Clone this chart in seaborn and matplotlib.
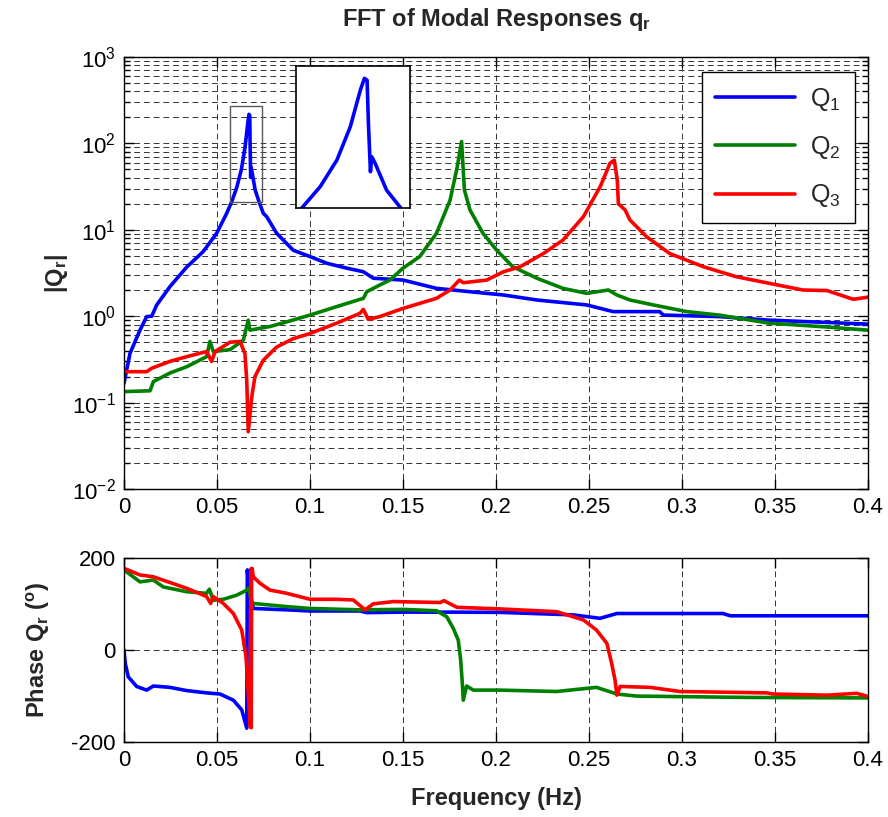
import numpy as np
import pandas as pd
import matplotlib
matplotlib.use("Agg")
import matplotlib.pyplot as plt
from matplotlib.patches import Rectangle
from matplotlib.ticker import LogLocator, NullFormatter, FixedLocator, FixedFormatter
import seaborn as sns

# |Q_r| values (frequency in Hz)
q1_freq = [0, 0.0032, 0.0086, 0.0122, 0.0149, 0.0176, 0.0247, 0.0337, 0.0426, 0.0498,
           0.0552, 0.0579, 0.0606, 0.0631, 0.0651, 0.0666, 0.0672, 0.0676, 0.0678, 0.0681,
           0.0683, 0.0688, 0.0705, 0.0726, 0.0749, 0.0767, 0.0821, 0.091, 0.1, 0.109,
           0.1197, 0.1287, 0.134, 0.150, 0.168, 0.186, 0.204, 0.222, 0.2487, 0.263,
           0.288, 0.29, 0.320, 0.347, 0.4]
q1_mag = [0.167, 0.37, 0.69, 0.99, 1.0, 1.35, 2.2, 3.7, 5.6, 9.1,
          15.5, 21.1, 30.8, 49.8, 90.8, 176, 217, 210, 96.6, 40.4,
          52.8, 47, 29, 21.1, 15.5, 14.2, 9.1, 5.8, 4.9, 4.1,
          3.6, 3.27, 2.75, 2.62, 2.1, 1.92, 1.76, 1.54, 1.35, 1.13,
          1.13, 1.03, 0.99, 0.90, 0.81]

q2_freq = [0, 0.014, 0.0158, 0.0247, 0.0337, 0.0444, 0.0462, 0.048, 0.057, 0.0642,
           0.0668, 0.0677, 0.0785, 0.0875, 0.1, 0.1143, 0.1287, 0.1305, 0.1376, 0.143,
           0.150, 0.159, 0.168, 0.1753, 0.1792, 0.1815, 0.183, 0.186, 0.193, 0.2004,
           0.209, 0.222, 0.236, 0.2487, 0.2604, 0.265, 0.272, 0.2846, 0.3025, 0.320,
           0.347, 0.374, 0.4]
q2_mag = [0.134, 0.137, 0.175, 0.22, 0.26, 0.34, 0.51, 0.39, 0.41, 0.53,
          0.90, 0.69, 0.76, 0.86, 1.03, 1.29, 1.61, 1.92, 2.3, 2.62,
          3.6, 4.9, 9.1, 22, 54, 105, 29, 17, 9.1, 5.8,
          3.74, 2.75, 2.1, 1.84, 2.01, 1.76, 1.54, 1.35, 1.13, 1.03,
          0.83, 0.76, 0.69]

q3_freq = [0, 0.0122, 0.0149, 0.0247, 0.0337, 0.0444, 0.0471, 0.049, 0.057, 0.0624,
           0.065, 0.066, 0.0668, 0.0687, 0.0704, 0.0749, 0.0821, 0.091, 0.1, 0.1143,
           0.1269, 0.1287, 0.1313, 0.1376, 0.150, 0.168, 0.1753, 0.1803, 0.1824, 0.195,
           0.204, 0.213, 0.2254, 0.236, 0.247, 0.256, 0.2613, 0.2636, 0.2652, 0.2658,
           0.2694, 0.272, 0.281, 0.2935, 0.3115, 0.329, 0.347, 0.365, 0.378, 0.392, 0.4]
q3_mag = [0.228, 0.228, 0.25, 0.30, 0.34, 0.39, 0.30, 0.39, 0.50, 0.51,
          0.37, 0.18, 0.046, 0.117, 0.2, 0.31, 0.44, 0.55, 0.63, 0.83,
          1.08, 1.2, 0.92, 0.99, 1.23, 1.61, 2.01, 2.62, 2.44, 2.62,
          3.27, 3.74, 5.3, 7.6, 14.2, 31.5, 59, 64, 37.7, 20,
          17, 13, 8.3, 5.3, 3.74, 2.87, 2.4, 2.01, 1.98, 1.57, 1.66]

# phase of Q_r (degrees)
p1_freq = [0, 0.0007, 0.0023, 0.0068, 0.0122, 0.0158, 0.0247, 0.0337, 0.0444, 0.0516,
           0.0588, 0.0633, 0.066, 0.0663, 0.0669, 0.0695, 0.0875, 0.1, 0.1269, 0.1305,
           0.150, 0.177, 0.202, 0.2416, 0.2559, 0.265, 0.322, 0.326, 0.4]
p1_phase = [0, -30, -59, -80, -88, -79, -82, -89, -94, -96.5,
            -110, -131, -171, 174, 145, 90, 87, 84.5, 84.5, 81,
            82, 82, 81.5, 76, 68.5, 79, 79, 74, 74]

p2_freq = [0, 0.0086, 0.0158, 0.0211, 0.0337, 0.0444, 0.0459, 0.048, 0.0534, 0.0606,
           0.0656, 0.0672, 0.0685, 0.0695, 0.0875, 0.1, 0.1269, 0.150, 0.168, 0.1735,
           0.177, 0.1797, 0.181, 0.1819, 0.1824, 0.1842, 0.1878, 0.202, 0.2326, 0.254,
           0.265, 0.2757, 0.3366, 0.4]
p2_phase = [174, 148, 152, 137, 126.5, 123, 132, 108, 110, 119,
            129, 135, 101, 101, 94, 90, 87, 88, 85, 72,
            47, 21, -22, -73, -110, -79, -88, -88, -91, -82,
            -96.5, -101, -104, -105]

p3_freq = [0, 0.0086, 0.0158, 0.0337, 0.0444, 0.0466, 0.048, 0.0534, 0.0588, 0.0633,
           0.0656, 0.0668, 0.0679, 0.0682, 0.0684, 0.0686, 0.0689, 0.0695, 0.0731, 0.0785,
           0.0875, 0.1, 0.1143, 0.1233, 0.1296, 0.134, 0.1448, 0.170, 0.172, 0.179,
           0.202, 0.2326, 0.247, 0.254, 0.2596, 0.2622, 0.264, 0.265, 0.2667, 0.2828,
           0.299, 0.3455, 0.349, 0.378, 0.394, 0.4]
p3_phase = [177.5, 163, 159, 134, 116, 101, 116, 101, 79, 43,
            -15, -95, -168, 176, -170, 172, 177.5, 159, 145, 130,
            123, 110, 110, 108.5, 87, 100, 105, 103, 107, 92.5,
            89, 83, 65, 43, 14, -30, -66, -99, -80, -82,
            -91, -94, -96.5, -99, -95, -102]

series = ["Q$_1$", "Q$_2$", "Q$_3$"]
colors = ["#0000ff", "#008000", "#ff0000"]
freq_ticks = [0, 0.05, 0.1, 0.15, 0.2, 0.25, 0.3, 0.35, 0.4]
freq_labels = ["0", "0.05", "0.1", "0.15", "0.2", "0.25", "0.3", "0.35", "0.4"]
phase_ticks = [-200, 0, 200]
phase_labels = ["-200", "0", "200"]

sns.set_style("ticks")
plt.rcParams["font.family"] = ["Liberation Sans", "DejaVu Sans"]
plt.rcParams["mathtext.default"] = "regular"
plt.rcParams["axes.unicode_minus"] = False


def long_frame(freqs, values, col):
    frames = []
    for name, f, v in zip(series, freqs, values):
        frames.append(pd.DataFrame({"freq": f, col: v, "series": name}))
    return pd.concat(frames, ignore_index=True)


mag_df = long_frame([q1_freq, q2_freq, q3_freq], [q1_mag, q2_mag, q3_mag], "mag")
phase_df = long_frame([p1_freq, p2_freq, p3_freq], [p1_phase, p2_phase, p3_phase], "phase")
palette = dict(zip(series, colors))

grid_kw = dict(color="0.2", linestyle=(0, (6, 4)), linewidth=0.7)
tick_size = 16
label_size = 17

fig = plt.figure(figsize=(8.88, 8.17), dpi=100)
ax1 = fig.add_axes([124 / 888, 1 - 489 / 817, 744 / 888, 432 / 817])
ax2 = fig.add_axes([124 / 888, 1 - 741.5 / 817, 744 / 888, 183.5 / 817])

# magnitude panel
sns.lineplot(data=mag_df, x="freq", y="mag", hue="series", palette=palette,
             estimator=None, sort=False, lw=2.6, ax=ax1)
ax1.set_yscale("log")
ax1.set_ylim(1e-2, 1e3)
ax1.yaxis.set_major_locator(LogLocator(base=10, numticks=10))
ax1.yaxis.set_minor_locator(LogLocator(base=10, subs=np.arange(2, 10), numticks=20))
ax1.yaxis.set_minor_formatter(NullFormatter())
ax1.grid(True, which="major", axis="both", **grid_kw)
ax1.grid(True, which="minor", axis="y", **grid_kw)
ax1.set_xlabel("")
ax1.set_ylabel("|Q$_r$|", fontsize=label_size, fontweight="bold", labelpad=1)
ax1.set_title("FFT of Modal Responses q$_r$", fontsize=17, fontweight="bold", pad=22)

# zoom box around the first peak
zoom_x = (0.057, 0.074)
zoom_y = (21, 271)
ax1.add_patch(Rectangle((zoom_x[0], zoom_y[0]), zoom_x[1] - zoom_x[0], zoom_y[1] - zoom_y[0],
                        fill=False, edgecolor="0.35", lw=1.0, zorder=3))

leg = ax1.legend(loc="upper right", bbox_to_anchor=(0.982, 0.965), borderaxespad=0,
                 fontsize=18, fancybox=False, edgecolor="black", framealpha=1,
                 handlelength=3.2, labelspacing=0.85, borderpad=0.55, handletextpad=0.6)
leg.get_frame().set_linewidth(1.0)
for line in leg.get_lines():
    line.set_linewidth(2.6)

# phase panel
sns.lineplot(data=phase_df, x="freq", y="phase", hue="series", palette=palette,
             estimator=None, sort=False, lw=2.6, legend=False, ax=ax2)
ax2.set_ylim(-200, 200)
ax2.yaxis.set_major_locator(FixedLocator(phase_ticks))
ax2.yaxis.set_major_formatter(FixedFormatter(phase_labels))
ax2.grid(True, which="major", axis="both", **grid_kw)
ax2.set_xlabel("Frequency (Hz)", fontsize=label_size, fontweight="bold", labelpad=12)
ax2.set_ylabel("Phase Q$_r$ ($^o$)", fontsize=label_size, fontweight="bold", labelpad=14)

for ax in (ax1, ax2):
    ax.set_xlim(0, 0.4)
    ax.xaxis.set_major_locator(FixedLocator(freq_ticks))
    ax.xaxis.set_major_formatter(FixedFormatter(freq_labels))
    ax.tick_params(which="both", direction="in", top=True, right=True,
                   labelsize=tick_size, colors="black", width=1)
    ax.tick_params(which="major", length=7, pad=6)
    ax.tick_params(which="minor", length=4)
    for sp in ax.spines.values():
        sp.set_color("black")
        sp.set_linewidth(1.0)

# inset: enlarged first peak
axins = fig.add_axes([296 / 888, 1 - 208 / 817, 114 / 888, 142 / 817])
sns.lineplot(x=q1_freq, y=q1_mag, color=colors[0], estimator=None, sort=False,
             lw=2.6, ax=axins)
axins.set_yscale("log")
axins.set_xlim(*zoom_x)
axins.set_ylim(*zoom_y)
axins.set_xticks([])
axins.set_yticks([])
axins.yaxis.set_minor_locator(plt.NullLocator())
axins.set_facecolor("white")
for sp in axins.spines.values():
    sp.set_color("black")
    sp.set_linewidth(1.2)

fig.savefig("out.png", dpi=100)
